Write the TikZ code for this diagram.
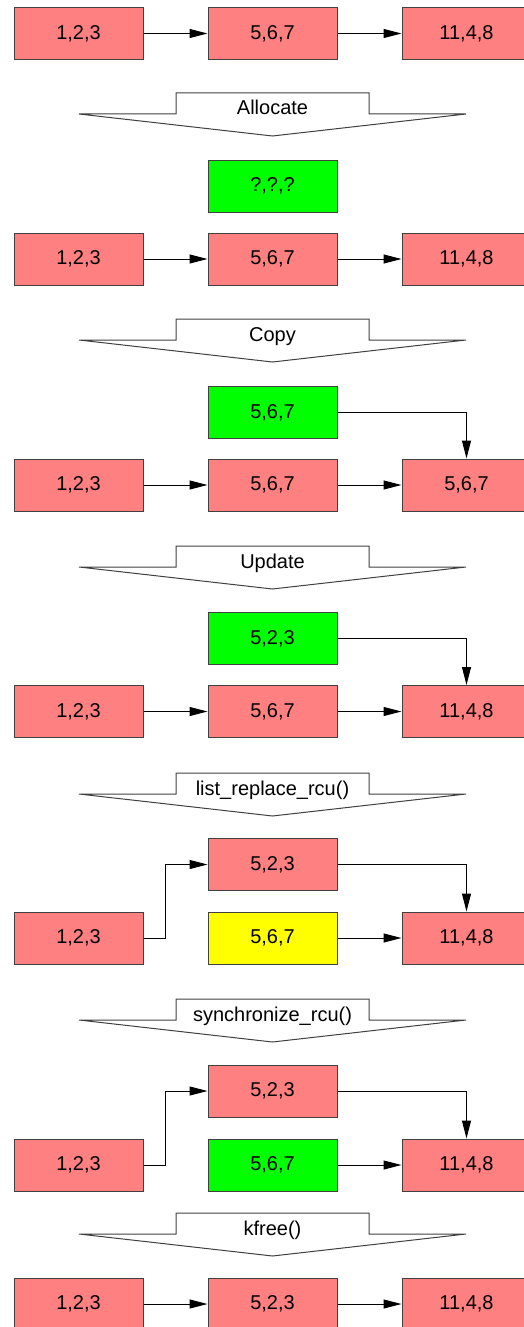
\documentclass[tikz,border=0pt]{standalone}
\usepackage{fontspec}
\setmainfont{Liberation Sans}
\usetikzlibrary{arrows.meta}
\definecolor{cellred}{HTML}{FF8080}
\definecolor{cellgreen}{HTML}{00FF00}
\definecolor{cellyellow}{HTML}{FFFF00}
\tikzset{
  cell/.style={draw=black!75, line width=1pt, minimum width=129pt, minimum height=52pt,
    inner sep=0pt, font=\fontsize{20pt}{24pt}\selectfont},
  oldcell/.style={cell, fill=cellred},
  newcell/.style={cell, fill=cellgreen},
  stalecell/.style={cell, fill=cellyellow},
  link/.style={line width=1pt, -{Triangle[length=18pt,width=9pt]}},
  stagearrow/.style={draw=black!75, line width=1pt, fill=white},
}
\begin{document}
\begin{tikzpicture}[x=1pt, y=-1pt]
  \useasboundingbox (0,0) rectangle (523,1327);

  % Les fleches d'etape (une par operation)
  \foreach \t/\txt [count=\i] in {93/Allocate, 319/Copy, 546/Update,
      773/list\_replace\_rcu(), 999/synchronize\_rcu(), 1213/kfree()} {
    \draw[stagearrow] (79,\t+21) -- (176,\t+21) -- (176,\t) -- (369,\t)
      -- (369,\t+21) -- (466,\t+21) -- (272.5,\t+43) -- cycle;
    \node[anchor=base, font=\fontsize{20pt}{24pt}\selectfont] (op\i) at (272.5,\t+22) {\txt};
  }

  % Etape 0 : la liste de depart
  \node[oldcell] (a0) at (78.5,33.5) {1,2,3};
  \node[oldcell] (b0) at (272.5,33.5) {5,6,7};
  \node[oldcell] (c0) at (466.5,33.5) {11,4,8};
  \draw[link] (a0) -- (b0);
  \draw[link] (b0) -- (c0);

  % Etape 1 : allocation
  \node[newcell] (n1) at (272.5,186) {?,?,?};
  \node[oldcell] (a1) at (78.5,259) {1,2,3};
  \node[oldcell] (b1) at (272.5,259) {5,6,7};
  \node[oldcell] (c1) at (466.5,259) {11,4,8};
  \draw[link] (a1) -- (b1);
  \draw[link] (b1) -- (c1);

  % Etape 2 : copie
  \node[newcell] (n2) at (272.5,412.5) {5,6,7};
  \node[oldcell] (a2) at (78.5,485) {1,2,3};
  \node[oldcell] (b2) at (272.5,485) {5,6,7};
  \node[oldcell] (c2) at (466.5,485) {5,6,7};
  \draw[link] (a2) -- (b2);
  \draw[link] (b2) -- (c2);
  \draw[link] (n2.east) -| (c2.north);

  % Etape 3 : mise a jour
  \node[newcell] (n3) at (272.5,638.5) {5,2,3};
  \node[oldcell] (a3) at (78.5,711.5) {1,2,3};
  \node[oldcell] (b3) at (272.5,711.5) {5,6,7};
  \node[oldcell] (c3) at (466.5,711.5) {11,4,8};
  \draw[link] (a3) -- (b3);
  \draw[link] (b3) -- (c3);
  \draw[link] (n3.east) -| (c3.north);

  % Etape 4 : remplacement
  \node[oldcell] (n4) at (272.5,864.5) {5,2,3};
  \node[oldcell] (a4) at (78.5,938) {1,2,3};
  \node[stalecell] (b4) at (272.5,938) {5,6,7};
  \node[oldcell] (c4) at (466.5,938) {11,4,8};
  \draw[link] (a4.east) -- ++(22,0) |- (n4.west);
  \draw[link] (n4.east) -| (c4.north);
  \draw[link] (b4) -- (c4);

  % Etape 5 : attente de grace
  \node[oldcell] (n5) at (272.5,1091) {5,2,3};
  \node[oldcell] (a5) at (78.5,1165) {1,2,3};
  \node[newcell] (b5) at (272.5,1165) {5,6,7};
  \node[oldcell] (c5) at (466.5,1165) {11,4,8};
  \draw[link] (a5.east) -- ++(22,0) |- (n5.west);
  \draw[link] (n5.east) -| (c5.north);
  \draw[link] (b5) -- (c5);

  % Etape 6 : liberation
  \node[oldcell] (a6) at (78.5,1304) {1,2,3};
  \node[oldcell] (b6) at (272.5,1304) {5,2,3};
  \node[oldcell] (c6) at (466.5,1304) {11,4,8};
  \draw[link] (a6) -- (b6);
  \draw[link] (b6) -- (c6);
\end{tikzpicture}
\end{document}
